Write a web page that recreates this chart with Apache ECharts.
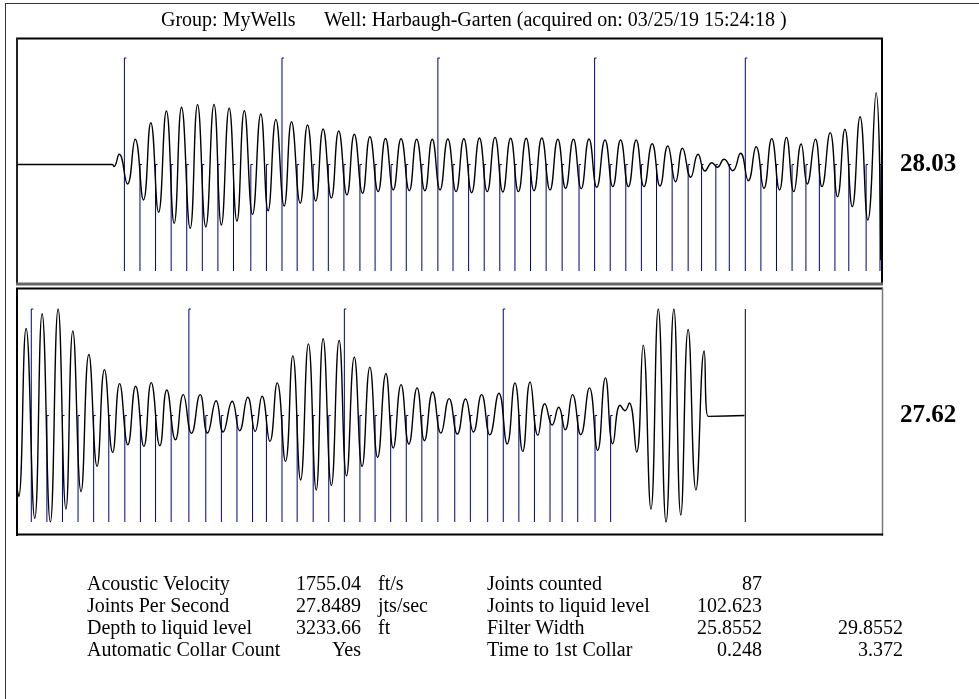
<!DOCTYPE html>
<html>
<head>
<meta charset="utf-8">
<title>Harbaugh-Garten acoustic trace</title>
<script src="https://cdn.jsdelivr.net/npm/echarts@6.0.0/dist/echarts.min.js"></script>
<style>
  html, body { margin: 0; padding: 0; background: #fff; }
  #chart { width: 979px; height: 699px; }
</style>
</head>
<body>
<div id="chart"></div>
<script>
// ---- data (time in s, amplitude normalised to +/-1) ----
var topWaveTime = [0, 0.220, 0.224, 0.236, 0.255, 0.273, 0.292, 0.309, 0.327, 0.345, 0.363, 0.380, 0.400, 0.417, 0.436,
  0.455, 0.472, 0.490, 0.508, 0.525, 0.544, 0.563, 0.580, 0.598, 0.617, 0.634, 0.654, 0.671, 0.690, 0.707, 0.726,
  0.743, 0.762, 0.779, 0.798, 0.815, 0.834, 0.851, 0.869, 0.887, 0.906, 0.923, 0.942, 0.959, 0.977, 0.995, 1.014,
  1.032, 1.050, 1.068, 1.086, 1.104, 1.122, 1.140, 1.158, 1.176, 1.194, 1.212, 1.231, 1.249, 1.267, 1.285, 1.303,
  1.321, 1.339, 1.358, 1.376, 1.394, 1.412, 1.430, 1.448, 1.467, 1.485, 1.503, 1.521, 1.537, 1.556, 1.573, 1.589,
  1.605, 1.617, 1.633, 1.653, 1.671, 1.689, 1.707, 1.725, 1.743, 1.761, 1.777, 1.794, 1.811, 1.825, 1.844, 1.859,
  1.878, 1.895, 1.912, 1.929, 1.947, 1.965, 1.984, 1.995];
var topWaveAmp = [0, 0, -0.02, 0.096, -0.183, 0.237, -0.333, 0.392, -0.449, 0.502, -0.552, 0.537, -0.599, 0.562, -0.584,
  0.565, -0.568, 0.528, -0.531, 0.505, -0.468, 0.474, -0.434, 0.424, -0.390, 0.402, -0.364, 0.371, -0.343, 0.333, -0.315,
  0.315, -0.286, 0.284, -0.270, 0.261, -0.255, 0.244, -0.239, 0.242, -0.246, 0.237, -0.246, 0.237, -0.239, 0.239, -0.255,
  0.242, -0.265, 0.249, -0.255, 0.255, -0.258, 0.246, -0.255, 0.246, -0.246, 0.249, -0.239, 0.237, -0.223, 0.237, -0.227,
  0.239, -0.214, 0.230, -0.208, 0.230, -0.208, 0.230, -0.208, 0.195, -0.202, 0.174, -0.162, 0.152, -0.120, 0.096, -0.061,
  0.017, -0.026, 0.049, -0.058, 0.105, -0.152, 0.167, -0.223, 0.242, -0.239, 0.255, -0.255, 0.192, -0.183, 0.237, -0.208,
  0.299, -0.302, 0.331, -0.396, 0.449, -0.521, 0.674, -0.90];

var botWaveTime = [2.000, 2.004, 2.021, 2.041, 2.058, 2.077, 2.095, 2.113, 2.129, 2.148, 2.166, 2.185, 2.202, 2.221,
  2.237, 2.256, 2.274, 2.293, 2.310, 2.330, 2.346, 2.366, 2.384, 2.403, 2.423, 2.440, 2.460, 2.476, 2.497, 2.514,
  2.533, 2.550, 2.566, 2.584, 2.601, 2.620, 2.637, 2.655, 2.673, 2.691, 2.707, 2.726, 2.744, 2.761, 2.779, 2.797,
  2.815, 2.833, 2.852, 2.869, 2.887, 2.905, 2.924, 2.941, 2.960, 2.979, 2.998, 3.017, 3.036, 3.054, 3.073, 3.092,
  3.113, 3.132, 3.150, 3.168, 3.185, 3.203, 3.219, 3.236, 3.251, 3.266, 3.283, 3.302, 3.322, 3.341, 3.359, 3.376,
  3.393, 3.404, 3.414, 3.431, 3.446, 3.464, 3.481, 3.499, 3.517, 3.533, 3.550, 3.568, 3.587, 3.596, 3.680];
var botWaveAmp = [-0.683, -0.761, 0.817, -0.965, 0.956, -1.0, 1.0, -0.878, 0.793, -0.714, 0.573, -0.478, 0.431, -0.347,
  0.299, -0.275, 0.275, -0.290, 0.309, -0.284, 0.240, -0.228, 0.196, -0.168, 0.196, -0.165, 0.139, -0.155, 0.134, -0.143,
  0.171, -0.149, 0.181, -0.243, 0.306, -0.431, 0.560, -0.605, 0.673, -0.699, 0.720, -0.657, 0.704, -0.567, 0.548, -0.478,
  0.454, -0.394, 0.394, -0.306, 0.290, -0.268, 0.259, -0.237, 0.221, -0.165, 0.158, -0.174, 0.155, -0.155, 0.196, -0.181,
  0.209, -0.268, 0.306, -0.337, 0.315, -0.186, 0.111, -0.089, 0.077, -0.134, 0.196, -0.181, 0.259, -0.328, 0.353, -0.266,
  0.096, 0.045, 0.118, -0.344, 0.661, -0.878, 1.0, -1.0, 1.0, -0.934, 0.808, -0.699, 0.605, -0.008, 0];

// collar (joint) times, every 10th one is drawn tall
var topCollars = [0.248, 0.284, 0.320, 0.356, 0.392, 0.428, 0.464, 0.500, 0.540, 0.576, 0.612, 0.647, 0.684, 0.719,
  0.755, 0.792, 0.827, 0.864, 0.899, 0.935, 0.972, 1.007, 1.043, 1.079, 1.115, 1.150, 1.186, 1.222, 1.259, 1.298,
  1.334, 1.370, 1.406, 1.442, 1.477, 1.513, 1.550, 1.581, 1.614, 1.645, 1.682, 1.718, 1.754, 1.790, 1.822, 1.853,
  1.889, 1.921, 1.961, 1.993];
var botCollars = [2.033, 2.069, 2.105, 2.141, 2.177, 2.212, 2.249, 2.285, 2.320, 2.356, 2.397, 2.436, 2.472, 2.508,
  2.544, 2.576, 2.612, 2.647, 2.684, 2.720, 2.756, 2.792, 2.827, 2.863, 2.899, 2.935, 2.972, 3.011, 3.047, 3.087,
  3.123, 3.159, 3.195, 3.231, 3.259, 3.295, 3.335, 3.371];
var liquidLevelTime = 3.682;

var panelRates = ["28.03", "27.62"];
var headerGroup = "Group: MyWells";
var headerWell = "Well: Harbaugh-Garten (acquired on: 03/25/19 15:24:18 )";

var leftLabels = ["Acoustic Velocity", "Joints Per Second", "Depth to liquid level", "Automatic Collar Count"];
var leftValues = ["1755.04", "27.8489", "3233.66", "Yes"];
var leftUnits = ["ft/s", "jts/sec", "ft", ""];
var rightLabels = ["Joints counted", "Joints to liquid level", "Filter Width", "Time to 1st Collar"];
var rightValues = ["87", "102.623", "25.8552", "0.248"];
var rightValues2 = ["", "", "29.8552", "3.372"];

var SERIF = '"Liberation Serif", "Times New Roman", serif';
var MARK = '#000080';

function collarItem(params, api) {
  var t = api.value(0);
  var tall = api.value(1);
  var p0 = api.coord([t, tall ? 1 : 0]);
  var p1 = api.coord([t, -1]);
  return {
    type: 'group',
    children: [
      { type: 'line', shape: { x1: p0[0], y1: p0[1], x2: p1[0], y2: p1[1] }, style: { stroke: MARK, lineWidth: 1 } },
      { type: 'line', shape: { x1: p0[0], y1: p0[1], x2: p0[0] + 2, y2: p0[1] }, style: { stroke: MARK, lineWidth: 1 } }
    ]
  };
}

function liquidItem(params, api) {
  var p0 = api.coord([api.value(0), 1]);
  var p1 = api.coord([api.value(0), -1]);
  return { type: 'line', shape: { x1: p0[0], y1: p0[1], x2: p1[0], y2: p1[1] }, style: { stroke: '#000', lineWidth: 1 } };
}

function waveSeries(idx, times, amps) {
  return {
    type: 'line',
    xAxisIndex: idx,
    yAxisIndex: idx,
    data: times.map(function (t, i) { return [t, amps[i]]; }),
    symbol: 'none',
    smooth: 0.5,
    lineStyle: { color: '#000', width: 1.4 },
    silent: true,
    z: 3
  };
}

function hline(x1, x2, y, color, w) {
  return { type: 'line', shape: { x1: x1, y1: y, x2: x2, y2: y }, style: { stroke: color, lineWidth: w }, silent: true };
}
function vline(x, y1, y2, color, w) {
  return { type: 'line', shape: { x1: x, y1: y1, x2: x, y2: y2 }, style: { stroke: color, lineWidth: w }, silent: true };
}
function txt(x, y, s, align, font) {
  return { type: 'text', x: x, y: y, silent: true,
    style: { text: s, font: font || ('20px ' + SERIF), fill: '#000', align: align || 'left', verticalAlign: 'middle' } };
}

var graphics = [
  // outer frame
  hline(5, 979, 3.5, '#333', 1),
  vline(5.5, 3, 699, '#333', 1),
  // top panel frame
  hline(16, 883, 38.5, '#000', 2),
  vline(17, 38, 285, '#222', 2),
  vline(882, 38, 285, '#000', 2),
  hline(16, 883, 284, '#666', 3),
  // bottom panel frame
  hline(16, 883, 288.5, '#000', 2),
  vline(17, 288, 536, '#000', 2),
  vline(882.5, 288, 536, '#777', 1.5),
  hline(16, 883, 534.5, '#000', 2),
  // header
  txt(161, 21, headerGroup),
  txt(324, 21, headerWell),
  // per-panel joint rates
  txt(900, 165, panelRates[0], 'left', 'bold 25px ' + SERIF),
  txt(900, 416, panelRates[1], 'left', 'bold 25px ' + SERIF)
];

var rowY = [585, 607, 629, 651];
rowY.forEach(function (y, i) {
  graphics.push(txt(87, y, leftLabels[i]));
  graphics.push(txt(361, y, leftValues[i], 'right'));
  if (leftUnits[i]) graphics.push(txt(378, y, leftUnits[i]));
  graphics.push(txt(487, y, rightLabels[i]));
  graphics.push(txt(762, y, rightValues[i], 'right'));
  if (rightValues2[i]) graphics.push(txt(903, y, rightValues2[i], 'right'));
});

var chart = echarts.init(document.getElementById('chart'), null, { renderer: 'canvas' });
chart.setOption({
  animation: false,
  backgroundColor: '#fff',
  grid: [
    { left: 17, top: 58, width: 866, height: 213 },
    { left: 17, top: 309, width: 866, height: 213 }
  ],
  xAxis: [
    { gridIndex: 0, type: 'value', min: 0, max: 2, show: false },
    { gridIndex: 1, type: 'value', min: 2, max: 4, show: false }
  ],
  yAxis: [
    { gridIndex: 0, type: 'value', min: -1, max: 1, show: false },
    { gridIndex: 1, type: 'value', min: -1, max: 1, show: false }
  ],
  series: [
    {
      type: 'custom', xAxisIndex: 0, yAxisIndex: 0, renderItem: collarItem, silent: true, z: 2,
      data: topCollars.map(function (t, i) { return [t, i % 10 === 0 ? 1 : 0]; })
    },
    {
      type: 'custom', xAxisIndex: 1, yAxisIndex: 1, renderItem: collarItem, silent: true, z: 2,
      data: botCollars.map(function (t, i) { return [t, i % 10 === 0 ? 1 : 0]; })
    },
    {
      type: 'custom', xAxisIndex: 1, yAxisIndex: 1, renderItem: liquidItem, silent: true, z: 2,
      data: [[liquidLevelTime, 1]]
    },
    waveSeries(0, topWaveTime, topWaveAmp),
    waveSeries(1, botWaveTime, botWaveAmp)
  ],
  graphic: graphics
});
</script>
</body>
</html>
